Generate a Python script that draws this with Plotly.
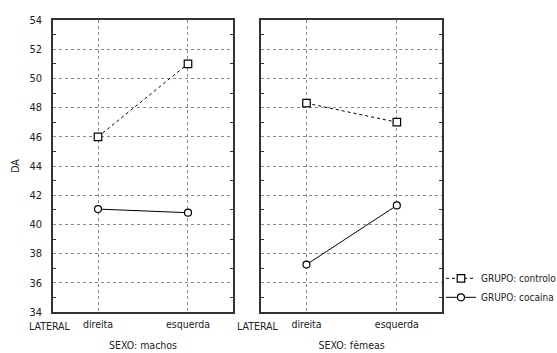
import plotly.graph_objects as go

categorias = ["direita", "esquerda"]
sexos = ["SEXO: machos", "SEXO: fêmeas"]
grupos = ["GRUPO: controlo", "GRUPO: cocaina"]
controlo_machos = [46.0, 51.0]
cocaina_machos = [41.05, 40.8]
controlo_femeas = [48.3, 47.0]
cocaina_femeas = [37.25, 41.3]
y_ticks = [34, 36, 38, 40, 42, 44, 46, 48, 50, 52, 54]

FONT = "Liberation Sans Narrow, DejaVu Sans Condensed, sans-serif"
FS = 10.5
xpos = [0, 1]

fig = go.Figure()
data = [(controlo_machos, cocaina_machos, "x", "y", True),
        (controlo_femeas, cocaina_femeas, "x2", "y2", False)]
for ctrl, coc, xa, ya, show in data:
    fig.add_trace(go.Scatter(x=xpos, y=ctrl, xaxis=xa, yaxis=ya, name=grupos[0],
                             mode="lines+markers", showlegend=show,
                             line=dict(color="black", width=1, dash="dot"),
                             marker=dict(symbol="square", size=7.5, color="white",
                                         line=dict(width=1.2, color="black")),
                             cliponaxis=False))
    fig.add_trace(go.Scatter(x=xpos, y=coc, xaxis=xa, yaxis=ya, name=grupos[1],
                             mode="lines+markers", showlegend=show,
                             line=dict(color="black", width=1, dash="solid"),
                             marker=dict(symbol="circle", size=7, color="white",
                                         line=dict(width=1.2, color="black")),
                             cliponaxis=False))

xcommon = dict(range=[-0.5, 1.5], tickvals=xpos, ticktext=categorias,
               showline=True, mirror=True, linecolor="#333", linewidth=1.5,
               showgrid=True, gridcolor="#888", griddash="dot", gridwidth=1,
               zeroline=False, ticks="", ticklabelstandoff=2,
               tickfont=dict(family=FONT, size=FS, color="#222"),
               title_font=dict(family=FONT, size=FS, color="#222"),
               title_standoff=12)
ycommon = dict(range=[34, 54], tickvals=y_ticks,
               showline=True, mirror="ticks", linecolor="#333", linewidth=1.5,
               showgrid=True, gridcolor="#888", griddash="dot", gridwidth=1,
               zeroline=False, ticks="",
               minor=dict(dtick=2, tick0=35, ticks="inside", ticklen=3,
                          tickcolor="#333", showgrid=False),
               tickfont=dict(family=FONT, size=11, color="#222"),
               title_font=dict(family=FONT, size=FS, color="#222"))

fig.update_layout(
    width=557, height=353,
    margin=dict(l=53, r=115, t=20, b=41, autoexpand=False),
    paper_bgcolor="white", plot_bgcolor="white",
    xaxis=dict(domain=[0, 0.4627], title_text=sexos[0], automargin=False, **xcommon),
    xaxis2=dict(domain=[0.5355, 1], title_text=sexos[1], anchor="y2", automargin=False, **xcommon),
    yaxis=dict(title_text="DA", title_standoff=8, ticklabelstandoff=7, automargin=False, **ycommon),
    yaxis2=dict(anchor="x2", showticklabels=False, automargin=False, **ycommon),
    legend=dict(x=0.9974, xanchor="left", y=0.165, yanchor="top",
                font=dict(family=FONT, size=10, color="#222"),
                bgcolor="rgba(0,0,0,0)", itemwidth=30, tracegroupgap=0),
    showlegend=True,
)

for xa in ["x domain", "x2 domain"]:
    fig.add_annotation(text="LATERAL", x=0, y=0, xref=xa, yref="paper",
                       xanchor="center", yanchor="top", xshift=-4, yshift=-6,
                       showarrow=False, font=dict(family=FONT, size=FS, color="#222"))

fig.write_html("out.html")
